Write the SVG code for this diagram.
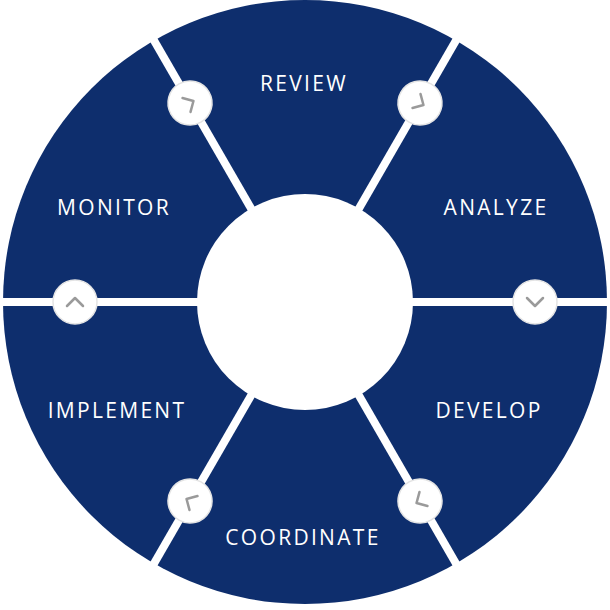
<svg xmlns="http://www.w3.org/2000/svg" width="610" height="610" viewBox="0 0 610 610">
<style>
.lbl{font-family:"Open Sans","Liberation Sans",sans-serif;font-size:21px;letter-spacing:2.3px;fill:#fff;text-anchor:middle;dominant-baseline:central}
.gap{stroke:#fff;stroke-width:8}
.dot{fill:#fff;stroke:#e4e4e4;stroke-width:1.5}
.chev{fill:none;stroke:#9a9a9a;stroke-width:2.5;stroke-linecap:round;stroke-linejoin:round}
</style>
<defs>
<g id="btn"><circle class="dot" r="22"/><polyline class="chev" points="-8,-4 0,4 8,-4"/></g>
</defs>
<g id="wheel">
<circle cx="305" cy="302" r="302" fill="#0e2e6d"/>
</g>
<g id="connectors">
<line class="gap" x1="305" y1="302" x2="615" y2="302"/>
<line class="gap" x1="305" y1="302" x2="-5" y2="302"/>
<line class="gap" x1="305" y1="302" x2="460" y2="33.5"/>
<line class="gap" x1="305" y1="302" x2="150" y2="33.5"/>
<line class="gap" x1="305" y1="302" x2="460" y2="570.5"/>
<line class="gap" x1="305" y1="302" x2="150" y2="570.5"/>
</g>
<circle cx="305" cy="302" r="108" fill="#fff"/>
<g id="buttons">
<use href="#btn" transform="translate(535,302)"/>
<use href="#btn" transform="translate(420,103) rotate(-60)"/>
<use href="#btn" transform="translate(190,103) rotate(-120)"/>
<use href="#btn" transform="translate(75,302) rotate(180)"/>
<use href="#btn" transform="translate(190,501) rotate(120)"/>
<use href="#btn" transform="translate(420,501) rotate(60)"/>
</g>
<g id="review"><text class="lbl" x="304" y="83">REVIEW</text></g>
<g id="analyze"><text class="lbl" x="496" y="207">ANALYZE</text></g>
<g id="develop"><text class="lbl" x="489" y="410">DEVELOP</text></g>
<g id="coordinate"><text class="lbl" x="303" y="537">COORDINATE</text></g>
<g id="implement"><text class="lbl" x="117" y="410">IMPLEMENT</text></g>
<g id="monitor"><text class="lbl" x="114" y="207">MONITOR</text></g>
</svg>
